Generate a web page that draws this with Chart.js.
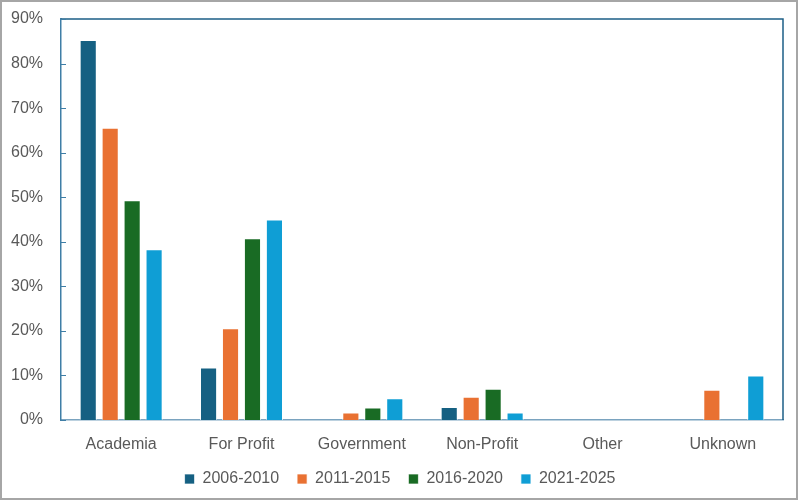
<!DOCTYPE html>
<html>
<head>
<meta charset="utf-8">
<script src="https://cdn.jsdelivr.net/npm/chart.js@4"></script>
<style>
  html, body { margin: 0; padding: 0; background: #fff; }
  #wrap { width: 800px; height: 501px; position: relative; }
</style>
</head>
<body>
<div id="wrap"><canvas id="myChart"></canvas></div>
<script>
var categories = ['Academia', 'For Profit', 'Government', 'Non-Profit', 'Other', 'Unknown'];
var periods = ['2006-2010', '2011-2015', '2016-2020', '2021-2025'];

// share of records per period, in %
var p2006 = [85.3, 11.8, 0, 2.9, 0, 0];
var p2011 = [65.6, 20.6, 1.7, 5.2, 0, 6.8];
var p2016 = [49.3, 40.8, 2.8, 7.0, 0, 0];
var p2021 = [38.3, 45.0, 4.9, 1.7, 0, 10.0];

var colors = ['#156082', '#E97132', '#196B24', '#0F9ED5'];
var textColor = '#595959';

// white page, grey outer border, frame round the plot area
var framePlugin = {
  id: 'frame',
  beforeDraw: function (chart) {
    var c = chart.ctx;
    c.save();
    c.fillStyle = '#fff';
    c.fillRect(0, 0, chart.width, chart.height);
    c.restore();
  },
  afterDraw: function (chart) {
    var c = chart.ctx, a = chart.chartArea;
    c.save();
    c.strokeStyle = '#a6a6a6';
    c.lineWidth = 2;
    c.strokeRect(1, 1, chart.width - 4, chart.height - 3);

    c.strokeStyle = '#1d5f86';
    c.lineWidth = 1.5;
    c.beginPath();
    c.moveTo(a.left, a.top);
    c.lineTo(a.right, a.top);
    c.lineTo(a.right, a.bottom);
    c.stroke();

    // inward tick marks on the value axis
    var y = chart.scales.y;
    c.strokeStyle = '#3f7ea6';
    c.lineWidth = 1;
    y.ticks.forEach(function (t) {
      var py = Math.round(y.getPixelForValue(t.value)) + 0.5;
      c.beginPath();
      c.moveTo(a.left, py);
      c.lineTo(a.left + 5, py);
      c.stroke();
    });
    c.restore();
  }
};

var ctx = document.getElementById('myChart').getContext('2d');
var data = [p2006, p2011, p2016, p2021];

var chart = new Chart(ctx, {
  type: 'bar',
  data: {
    labels: categories,
    datasets: periods.map(function (p, i) {
      return {
        label: p,
        data: data[i],
        backgroundColor: colors[i],
        borderColor: 'rgba(255,255,255,0.7)',
        borderWidth: 1,
        categoryPercentage: 0.73,
        barPercentage: 0.78
      };
    })
  },
  options: {
    responsive: true,
    maintainAspectRatio: false,
    animation: false,
    layout: { padding: { top: 19, right: 0, bottom: 4, left: 0 } },
    font: { family: 'Liberation Sans' },
    scales: {
      x: {
        grid: { display: false, drawTicks: false },
        border: { color: '#7aa3bf', width: 1.5 },
        ticks: { color: textColor, font: { family: 'Liberation Sans', size: 16 }, padding: 15 },
        afterFit: function (s) { s.height = 33; }
      },
      y: {
        min: 0,
        max: 90,
        grid: { display: false, drawTicks: false },
        border: { color: '#3f7ea6', width: 1.5 },
        ticks: {
          stepSize: 10,
          color: textColor,
          font: { family: 'Liberation Sans', size: 16 },
          padding: 18,
          callback: function (v) { return v + '%'; }
        },
        afterFit: function (s) { s.width = 61; s.paddingTop = 0; s.paddingBottom = 0; }
      },
      // empty right-hand spacer so the legend stays centred on the page
      yr: {
        position: 'right',
        display: true,
        grid: { display: false, drawTicks: false },
        border: { display: false },
        ticks: { display: false },
        afterFit: function (s) { s.width = 17; s.paddingTop = 0; s.paddingBottom = 0; }
      }
    },
    plugins: {
      legend: {
        position: 'bottom',
        labels: {
          color: textColor,
          font: { family: 'Liberation Sans', size: 16 },
          boxWidth: 10,
          boxHeight: 10,
          padding: 18
        }
      },
      tooltip: { enabled: false }
    }
  },
  plugins: [framePlugin]
});
</script>
</body>
</html>
